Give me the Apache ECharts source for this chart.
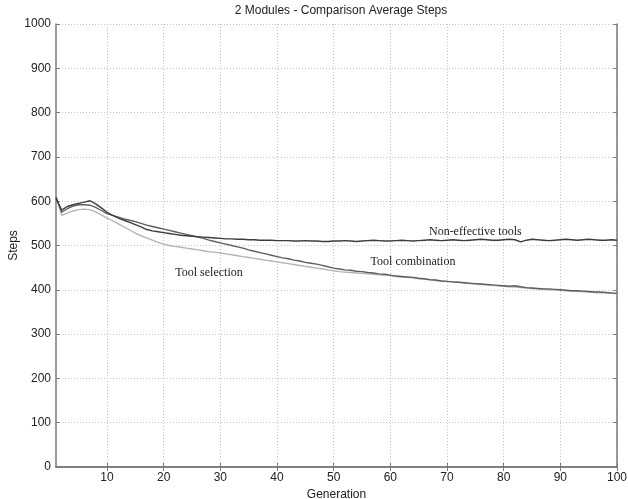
<!DOCTYPE html>
<html style="height: 100%">
<head>
    <meta charset="utf-8">
    <script type="text/javascript" src="https://cdn.jsdelivr.net/npm/echarts@6/dist/echarts.min.js"></script>
</head>
<body style="height: 100%; margin: 0; background: #fff">
<div id="container" style="width: 628px; height: 499px"></div>
<script type="text/javascript">
    // generations 1..100
    var generations = [];
    for (var g = 1; g <= 100; g++) { generations.push(String(g)); }

    var nonEffective = [
        606, 580, 588, 592, 595, 598, 601, 594, 585, 575,
        568, 562, 557, 552, 547, 542, 536, 533, 531, 529,
        527, 525, 523, 522, 521, 520, 519, 518, 517, 516,
        515, 515, 514, 514, 513, 513, 512, 512, 512, 511,
        511, 511, 510, 510, 511, 510, 510, 509, 509, 510,
        510, 511, 510, 509, 510, 511, 512, 511, 510, 510,
        511, 512, 511, 510, 511, 512, 513, 512, 511, 512,
        513, 512, 511, 512, 513, 514, 513, 512, 512, 513,
        514, 513, 508, 512, 514, 513, 512, 511, 512, 513,
        514, 513, 512, 513, 514, 513, 512, 512, 513, 512
    ];
    var toolCombination = [
        610, 575, 583, 589, 592, 592, 591, 586, 579, 572,
        568, 564, 560, 557, 554, 550, 546, 543, 540, 537,
        534, 531, 528, 525, 522, 519, 516, 512, 509, 506,
        503, 500, 497, 494, 490, 487, 484, 481, 478, 475,
        472, 470, 467, 465, 462, 460, 458, 455, 452, 449,
        447, 445, 444, 442, 441, 439, 438, 436, 435, 433,
        431, 430, 429, 428, 426, 425, 423, 422, 420, 419,
        418, 417, 416, 415, 414, 413, 412, 411, 410, 409,
        408, 409, 407, 405, 404, 403, 402, 402, 401, 400,
        399, 398, 398, 397, 396, 395, 395, 394, 393, 392
    ];
    var toolSelection = [
        612, 568, 573, 578, 581, 582, 581, 576, 569, 562,
        556, 549, 542, 535, 528, 522, 517, 512, 507, 503,
        500, 498, 496, 494, 492, 490, 488, 486, 485, 483,
        481, 479, 477, 475, 473, 471, 469, 467, 465, 463,
        461, 459, 457, 455, 453, 451, 449, 447, 445, 443,
        441, 440, 439, 438, 437, 436, 435, 434, 433, 432,
        430, 429, 428, 427, 425, 424, 422, 421, 420, 419,
        418, 417, 416, 414, 413, 412, 411, 410, 409, 408,
        407, 406, 405, 404, 403, 402, 401, 400, 400, 399,
        398, 397, 396, 396, 395, 394, 393, 393, 392, 391
    ];

    var seriesNames = ["Non-effective tools", "Tool combination", "Tool selection"];
    var seriesColors = ["#3c3c3c", "#5e5e5e", "#b4b4b4"];
    // where the text annotation of each curve sits: [generation, steps]
    var labelAt = [[75, 530], [64, 463], [28, 438]];

    var yTicks = [0, 100, 200, 300, 400, 500, 600, 700, 800, 900, 1000];

    function everyTen(index, value) {
        return Number(value) % 10 === 0;
    }

    var dom = document.getElementById("container");
    var myChart = echarts.init(dom);
    var boxColor = "#7a7a7a";
    var textFont = "Liberation Sans";

    function makeSeries(i, values) {
        return {
            name: seriesNames[i],
            type: "line",
            data: values,
            symbol: "none",
            lineStyle: {color: seriesColors[i], width: 1.4},
            z: 3 - i,
            markPoint: {
                symbolSize: 0,
                data: [{coord: [String(labelAt[i][0]), labelAt[i][1]], value: seriesNames[i]}],
                label: {
                    show: true,
                    position: "inside",
                    formatter: seriesNames[i],
                    fontFamily: "Liberation Serif",
                    fontSize: 12,
                    color: "#222"
                }
            }
        };
    }

    var option = {
        animation: false,
        backgroundColor: "#fff",
        title: {
            text: "2 Modules - Comparison Average Steps",
            left: 336,
            textAlign: "center",
            top: 0,
            textStyle: {fontFamily: textFont, fontSize: 12, fontWeight: "normal", color: "#222"}
        },
        grid: {left: 56, right: 11, top: 24, bottom: 32, outerBoundsMode: "none", containLabel: false},
        xAxis: [{
            type: "category",
            data: generations,
            boundaryGap: false,
            name: "Generation",
            nameLocation: "middle",
            nameGap: 17,
            nameTextStyle: {fontFamily: textFont, fontSize: 12, color: "#222"},
            axisLine: {lineStyle: {color: boxColor, width: 1.5}},
            axisTick: {inside: true, length: 4, interval: everyTen, lineStyle: {color: boxColor}},
            axisLabel: {interval: everyTen, fontFamily: textFont, fontSize: 12, color: "#222", margin: 5},
            splitLine: {show: true, interval: everyTen, lineStyle: {color: "#c4c4c4", type: [1, 2]}}
        }, {
            type: "category",
            data: generations,
            boundaryGap: false,
            position: "top",
            axisLine: {lineStyle: {color: boxColor, width: 1.5}},
            axisTick: {inside: true, length: 4, interval: everyTen, lineStyle: {color: boxColor}},
            axisLabel: {show: false},
            splitLine: {show: false}
        }],
        yAxis: [{
            type: "value",
            min: yTicks[0],
            max: yTicks[yTicks.length - 1],
            interval: 100,
            name: "Steps",
            nameLocation: "middle",
            nameGap: 36,
            nameMoveOverlap: false,
            nameTextStyle: {fontFamily: textFont, fontSize: 12, color: "#222"},
            axisLine: {show: true, lineStyle: {color: boxColor, width: 1.5}},
            axisTick: {show: true, inside: true, length: 4, lineStyle: {color: boxColor}},
            axisLabel: {
                fontFamily: textFont, fontSize: 12, color: "#222", margin: 5,
                formatter: function (v) { return String(v); }
            },
            splitLine: {show: true, lineStyle: {color: "#c4c4c4", type: [1, 2]}}
        }, {
            type: "value",
            min: yTicks[0],
            max: yTicks[yTicks.length - 1],
            interval: 100,
            position: "right",
            axisLine: {show: true, lineStyle: {color: boxColor, width: 1.5}},
            axisTick: {show: true, inside: true, length: 4, lineStyle: {color: boxColor}},
            axisLabel: {show: false},
            splitLine: {show: false}
        }],
        series: [
            makeSeries(0, nonEffective),
            makeSeries(1, toolCombination),
            makeSeries(2, toolSelection)
        ]
    };

    myChart.setOption(option, true);
</script>
</body>
</html>
